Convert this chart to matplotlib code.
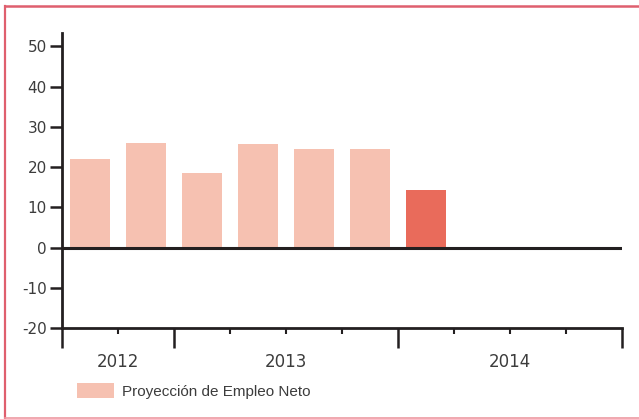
import matplotlib
matplotlib.use("Agg")
import matplotlib.pyplot as plt
from matplotlib.patches import Patch
from matplotlib.lines import Line2D
import matplotlib.transforms as mtransforms

plt.rcParams['axes.unicode_minus'] = False

# data
quarters = ["2012 T3", "2012 T4", "2013 T1", "2013 T2", "2013 T3", "2013 T4", "2014 T1"]
values = [22.0, 26.0, 18.6, 25.8, 24.6, 24.6, 14.2]
years = ["2012", "2013", "2014"]
year_centers = [1, 4, 8]          # slot positions (quarters) of year labels
year_bounds = [0, 2, 6, 10]       # slot boundaries between years
yticks = [-20, -10, 0, 10, 20, 30, 40, 50]
legend_label = "Proyección de Empleo Neto"

light = "#f6c1b1"
dark = "#e96b5b"
axis_col = "#231f20"
text_col = "#3c3c3c"

W, H = 639, 419
fig = plt.figure(figsize=(W / 100, H / 100), dpi=100)

left, right, bottom_px, top_px = 62, 622, 328, 33
ax = fig.add_axes([left / W, (H - bottom_px) / H, (right - left) / W, (bottom_px - top_px) / H])

n_slots = 10
colors = [light] * (len(values) - 1) + [dark]
xpos = [i + 0.5 for i in range(len(values))]
ax.bar(xpos, values, width=0.73, color=colors, zorder=2)

ax.set_xlim(0, n_slots)
ax.set_ylim(-20, 53.3)

for s in ["top", "right"]:
    ax.spines[s].set_visible(False)
ax.spines["left"].set_color(axis_col)
ax.spines["left"].set_linewidth(2)
ax.spines["bottom"].set_color(axis_col)
ax.spines["bottom"].set_linewidth(2)

ax.axhline(0, color=axis_col, lw=2.2, zorder=3)

ax.set_yticks(yticks)
ax.set_yticklabels([str(t) for t in yticks], fontsize=11, color=text_col, family="DejaVu Sans")
ax.tick_params(axis="y", length=9, width=1.8, color=axis_col, pad=2)

minor = [i for i in range(n_slots + 1) if i not in year_bounds]
ax.set_xticks(year_bounds)
ax.set_xticklabels([""] * len(year_bounds))
ax.set_xticks(minor, minor=True)
ax.tick_params(axis="x", which="major", length=14.5, width=1.8, color=axis_col)
ax.tick_params(axis="x", which="minor", length=4.5, width=1.5, color=axis_col)

trans = mtransforms.blended_transform_factory(ax.transData, ax.transAxes)
for yr, c in zip(years, year_centers):
    ax.text(c, -(362 - bottom_px) / (bottom_px - top_px), yr, transform=trans,
            ha="center", va="center", fontsize=12, color=text_col, family="DejaVu Sans")

fig.legend([Patch(facecolor=light)], [legend_label], loc="center left",
           bbox_to_anchor=(77 / W, 1 - 391 / H), frameon=False, borderpad=0, borderaxespad=0,
           handlelength=2.4, handleheight=1.05, handletextpad=0.55,
           prop={"family": ["Liberation Sans Narrow", "Liberation Sans"], "size": 11},
           labelcolor=text_col)

# frame around figure
border = "#df5f6e"
fig.add_artist(Line2D([5 / W, 5 / W], [1 - 6 / H, 1 - 418 / H], transform=fig.transFigure, color=border, lw=1.6))
fig.add_artist(Line2D([5 / W, 1.0], [1 - 6 / H, 1 - 6 / H], transform=fig.transFigure, color=border, lw=1.8))
fig.add_artist(Line2D([5 / W, 1.0], [1 - 418 / H, 1 - 418 / H], transform=fig.transFigure, color="#ee9aa2", lw=1.2))

fig.savefig("out.png", dpi=100)
